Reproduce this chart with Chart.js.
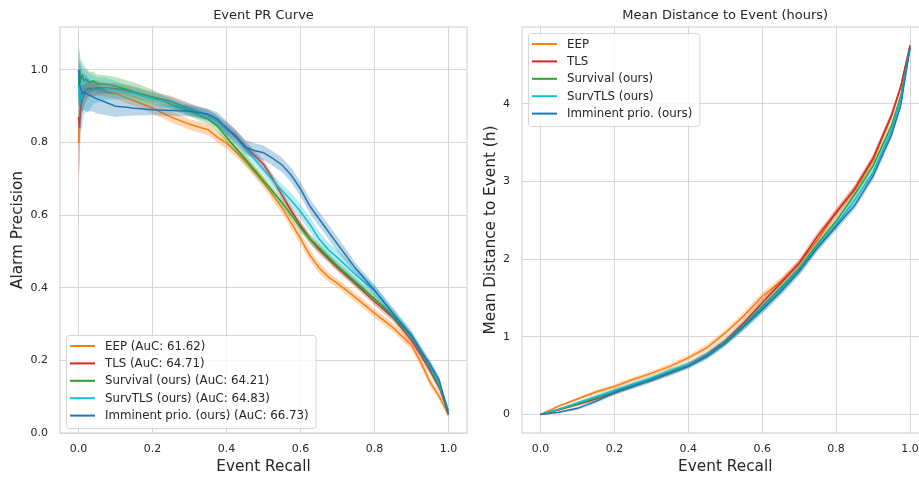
<!DOCTYPE html>
<html>
<head>
<meta charset="utf-8">
<script src="https://cdn.jsdelivr.net/npm/chart.js@4.4.1/dist/chart.umd.min.js"></script>
<style>
  html, body { margin: 0; padding: 0; background: #fff; overflow: hidden; }
  #wrap { position: relative; width: 919px; height: 477px; overflow: hidden; }
  canvas { position: absolute; top: 0; }
  #pr-canvas { left: 0; }
  #dist-canvas { left: 462px; }
</style>
</head>
<body>
<div id="wrap">
  <canvas id="pr-canvas" width="470" height="477"></canvas>
  <canvas id="dist-canvas" width="470" height="477"></canvas>
</div>
<script>
// series
const seriesNames = ['EEP', 'TLS', 'Survival (ours)', 'SurvTLS (ours)', 'Imminent prio. (ours)'];
const aucValues = ['61.62', '64.71', '64.21', '64.83', '66.73'];
const seriesColors = ['#ff7f0e', '#d62728', '#2ca02c', '#17becf', '#1f77b4'];

// left panel: event PR curve
const prRecall = [0, 0.003, 0.006, 0.01, 0.015, 0.02, 0.03, 0.04, 0.05, 0.075, 0.1, 0.125, 0.15, 0.2, 0.25, 0.3,
  0.35, 0.375, 0.4, 0.425, 0.45, 0.475, 0.5, 0.525, 0.55, 0.575, 0.6, 0.625, 0.65, 0.675, 0.7,
  0.75, 0.8, 0.85, 0.9, 0.925, 0.95, 0.975, 1.0];
const prEEP = [0.80, 0.88, 0.90, 0.92, 0.93, 0.935, 0.945, 0.95, 0.95, 0.94, 0.935, 0.925, 0.915, 0.895, 0.87, 0.85,
  0.835, 0.815, 0.798, 0.775, 0.75, 0.72, 0.69, 0.655, 0.62, 0.578, 0.535, 0.49, 0.455, 0.43, 0.412,
  0.372, 0.33, 0.29, 0.242, 0.195, 0.14, 0.10, 0.05];
const prTLS = [0.87, 0.84, 0.90, 0.92, 0.93, 0.945, 0.95, 0.945, 0.95, 0.95, 0.948, 0.945, 0.938, 0.925, 0.913, 0.893,
  0.875, 0.86, 0.84, 0.82, 0.79, 0.765, 0.74, 0.70, 0.655, 0.612, 0.572, 0.535, 0.505, 0.48, 0.455,
  0.41, 0.362, 0.318, 0.255, 0.215, 0.172, 0.125, 0.055];
const prSurvival = [0.95, 1.0, 0.97, 0.985, 0.97, 0.975, 0.965, 0.97, 0.962, 0.96, 0.955, 0.948, 0.94, 0.925, 0.905, 0.887,
  0.865, 0.845, 0.815, 0.785, 0.755, 0.725, 0.695, 0.665, 0.635, 0.60, 0.565, 0.535, 0.51, 0.485, 0.46,
  0.415, 0.37, 0.322, 0.265, 0.225, 0.18, 0.13, 0.06];
const prSurvTLS = [0.96, 0.90, 0.93, 0.92, 0.95, 0.94, 0.94, 0.945, 0.945, 0.948, 0.945, 0.94, 0.935, 0.92, 0.91, 0.89,
  0.875, 0.86, 0.835, 0.815, 0.785, 0.755, 0.725, 0.695, 0.668, 0.64, 0.61, 0.575, 0.535, 0.505, 0.483,
  0.435, 0.392, 0.33, 0.27, 0.23, 0.185, 0.135, 0.06];
const prImminent = [1.0, 0.96, 0.95, 0.935, 0.94, 0.935, 0.93, 0.925, 0.92, 0.91, 0.90, 0.898, 0.894, 0.89, 0.888, 0.887,
  0.878, 0.865, 0.84, 0.815, 0.788, 0.778, 0.772, 0.756, 0.738, 0.71, 0.672, 0.625, 0.59, 0.555, 0.52,
  0.452, 0.393, 0.33, 0.268, 0.225, 0.19, 0.145, 0.05];
// half widths of the shaded bands
const prBandEEP = [0.23, 0.08, 0.05, 0.04, 0.03, 0.025, 0.02, 0.02, 0.02, 0.015, 0.015, 0.015, 0.015, 0.015, 0.015, 0.015,
  0.015, 0.015, 0.015, 0.015, 0.015, 0.015, 0.015, 0.015, 0.015, 0.015, 0.015, 0.015, 0.015, 0.013, 0.012,
  0.012, 0.012, 0.012, 0.012, 0.012, 0.012, 0.01, 0.01];
const prBandTLS = [0.17, 0.1, 0.06, 0.04, 0.03, 0.025, 0.02, 0.02, 0.02, 0.015, 0.015, 0.015, 0.015, 0.015, 0.015, 0.015,
  0.015, 0.015, 0.015, 0.015, 0.015, 0.013, 0.012, 0.012, 0.012, 0.012, 0.012, 0.012, 0.012, 0.01, 0.01,
  0.01, 0.01, 0.01, 0.01, 0.01, 0.01, 0.01, 0.01];
const prBandSurvival = [0.08, 0.06, 0.05, 0.04, 0.03, 0.03, 0.03, 0.025, 0.025, 0.025, 0.025, 0.025, 0.025, 0.02, 0.015, 0.015,
  0.015, 0.015, 0.015, 0.015, 0.015, 0.013, 0.012, 0.012, 0.012, 0.012, 0.012, 0.012, 0.012, 0.012, 0.012,
  0.012, 0.01, 0.01, 0.01, 0.01, 0.01, 0.01, 0.01];
const prBandSurvTLS = [0.14, 0.12, 0.1, 0.08, 0.07, 0.06, 0.05, 0.04, 0.035, 0.03, 0.025, 0.02, 0.02, 0.015, 0.015, 0.015,
  0.015, 0.015, 0.015, 0.015, 0.015, 0.015, 0.015, 0.016, 0.018, 0.02, 0.02, 0.02, 0.02, 0.02, 0.02,
  0.02, 0.015, 0.012, 0.01, 0.01, 0.01, 0.01, 0.01];
const prBandImminent = [0.05, 0.06, 0.06, 0.05, 0.05, 0.05, 0.045, 0.04, 0.04, 0.035, 0.03, 0.025, 0.02, 0.015, 0.015, 0.015,
  0.015, 0.018, 0.02, 0.02, 0.02, 0.02, 0.02, 0.02, 0.02, 0.02, 0.02, 0.02, 0.02, 0.02, 0.02,
  0.015, 0.015, 0.015, 0.012, 0.012, 0.012, 0.01, 0.01];
const prXTicks = [0, 0.2, 0.4, 0.6, 0.8, 1.0];
const prYTicks = [0, 0.2, 0.4, 0.6, 0.8, 1.0];

// right panel: mean distance to event
const distRecall = [0, 0.05, 0.1, 0.15, 0.2, 0.25, 0.3, 0.35, 0.4, 0.45, 0.5, 0.55, 0.6, 0.65, 0.7, 0.75, 0.8, 0.85, 0.9,
  0.95, 0.975, 1.0];
const distEEP = [0, 0.11, 0.2, 0.29, 0.36, 0.45, 0.53, 0.62, 0.73, 0.86, 1.05, 1.27, 1.52, 1.71, 1.94, 2.25, 2.6, 2.9, 3.27,
  3.85, 4.22, 4.75];
const distTLS = [0, 0.06, 0.13, 0.2, 0.28, 0.37, 0.45, 0.54, 0.64, 0.77, 0.95, 1.18, 1.44, 1.69, 1.95, 2.3, 2.6, 2.9, 3.3,
  3.85, 4.22, 4.75];
const distSurvival = [0, 0.07, 0.14, 0.22, 0.3, 0.38, 0.46, 0.55, 0.63, 0.76, 0.93, 1.15, 1.39, 1.63, 1.88, 2.2, 2.49, 2.83,
  3.2, 3.72, 4.1, 4.73];
const distSurvTLS = [0, 0.07, 0.15, 0.23, 0.31, 0.39, 0.47, 0.56, 0.64, 0.76, 0.92, 1.13, 1.36, 1.6, 1.85, 2.16, 2.44, 2.76,
  3.12, 3.66, 4.05, 4.72];
const distImminent = [0, 0.03, 0.08, 0.17, 0.28, 0.36, 0.44, 0.53, 0.62, 0.75, 0.92, 1.13, 1.35, 1.58, 1.84, 2.15, 2.42, 2.69,
  3.07, 3.6, 3.98, 4.72];
const distBandWidth = [0, 0.01, 0.02, 0.025, 0.03, 0.03, 0.03, 0.035, 0.035, 0.04, 0.04, 0.045, 0.05, 0.05, 0.05, 0.05, 0.05,
  0.05, 0.05, 0.05, 0.04, 0.03];
const distXTicks = [0, 0.2, 0.4, 0.6, 0.8, 1.0];
const distYTicks = [0, 1, 2, 3, 4];

const FONT = "'DejaVu Sans', sans-serif";
const TEXT_COLOR = '#262626';
const GRID_COLOR = '#d6d6d6';

function rgba(hex, a) {
  const n = parseInt(hex.slice(1), 16);
  return `rgba(${(n >> 16) & 255}, ${(n >> 8) & 255}, ${n & 255}, ${a})`;
}

function makeDatasets(xs, ysList, bandList) {
  const datasets = [];
  ysList.forEach((ys, i) => {
    const half = bandList[i];
    const base = 100 - i * 10;
    datasets.push({
      data: xs.map((x, k) => ({ x: x, y: ys[k] + half[k] })),
      borderColor: 'transparent',
      borderWidth: 0,
      pointRadius: 0,
      fill: false,
      order: base + 2,
    });
    datasets.push({
      data: xs.map((x, k) => ({ x: x, y: ys[k] - half[k] })),
      borderColor: 'transparent',
      borderWidth: 0,
      pointRadius: 0,
      backgroundColor: rgba(seriesColors[i], 0.3),
      fill: '-1',
      order: base + 1,
    });
    datasets.push({
      data: xs.map((x, k) => ({ x: x, y: ys[k] })),
      borderColor: seriesColors[i],
      borderWidth: 1.5,
      pointRadius: 0,
      fill: false,
      order: base,
    });
  });
  return datasets;
}

function makeScales(cfg) {
  return {
    x: {
      type: 'linear',
      min: cfg.xMin,
      max: cfg.xMax,
      afterBuildTicks: (scale) => { scale.ticks = cfg.xTicks.map((v) => ({ value: v })); },
      afterFit: (scale) => { scale.height = 44; },
      grid: { color: GRID_COLOR, lineWidth: 1, drawTicks: false },
      border: { display: false },
      ticks: {
        color: TEXT_COLOR,
        font: { family: FONT, size: 11 },
        padding: 10,
        callback: (v) => v.toFixed(1),
      },
      title: {
        display: true,
        text: cfg.xTitle,
        color: TEXT_COLOR,
        font: { family: FONT, size: 15.3 },
        padding: { top: 0, bottom: 1 },
      },
    },
    y: {
      type: 'linear',
      min: cfg.yMin,
      max: cfg.yMax,
      afterBuildTicks: (scale) => { scale.ticks = cfg.yTicks.map((v) => ({ value: v })); },
      afterFit: (scale) => { scale.width = 60; },
      grid: { color: GRID_COLOR, lineWidth: 1, drawTicks: false },
      border: { display: false },
      ticks: {
        color: TEXT_COLOR,
        font: { family: FONT, size: 11 },
        padding: cfg.yTickPad,
        callback: cfg.yFormat,
      },
      title: {
        display: true,
        text: cfg.yTitle,
        color: TEXT_COLOR,
        font: { family: FONT, size: 15.3 },
        padding: { top: cfg.yTitlePad, bottom: 0 },
      },
    },
  };
}

// axes frame, panel title and an in-axes legend, matplotlib style
const framePlugin = {
  id: 'frame',
  beforeDatasetsDraw(chart) {
    const { ctx, chartArea: a } = chart;
    ctx.save();
    ctx.strokeStyle = GRID_COLOR;
    ctx.lineWidth = 1.2;
    ctx.strokeRect(a.left, a.top, a.right - a.left, a.bottom - a.top);
    ctx.restore();
  },
  afterDraw(chart, args, opts) {
    const { ctx, chartArea: a } = chart;
    ctx.save();
    ctx.fillStyle = TEXT_COLOR;
    ctx.font = `13px ${FONT}`;
    ctx.textAlign = 'center';
    ctx.textBaseline = 'middle';
    ctx.fillText(opts.title, (a.left + a.right) / 2, 16);

    ctx.font = `11.8px ${FONT}`;
    const rowH = 17.4;
    const textW = Math.max(...opts.labels.map((t) => ctx.measureText(t).width));
    const w = 39 + textW + 7;
    const h = opts.labels.length * rowH + 6;
    const x0 = a.left + 6;
    const y0 = opts.corner === 'top' ? a.top + 6 : a.bottom - 5 - h;
    ctx.beginPath();
    ctx.roundRect(x0 + 0.5, y0 + 0.5, w, h, 3);
    ctx.fillStyle = 'rgba(255,255,255,0.8)';
    ctx.fill();
    ctx.strokeStyle = '#cccccc';
    ctx.lineWidth = 0.8;
    ctx.stroke();
    ctx.textAlign = 'left';
    opts.labels.forEach((t, i) => {
      const y = y0 + 11 + i * rowH;
      ctx.strokeStyle = seriesColors[i];
      ctx.lineWidth = 2;
      ctx.beginPath();
      ctx.moveTo(x0 + 4, y);
      ctx.lineTo(x0 + 29, y);
      ctx.stroke();
      ctx.fillStyle = TEXT_COLOR;
      ctx.fillText(t, x0 + 39, y + 0.5);
    });
    ctx.restore();
  },
};

function baseOptions(scales, frame, padRight) {
  return {
    responsive: false,
    animation: false,
    layout: { padding: { top: 27, right: padRight, left: 0, bottom: 0 } },
    elements: { line: { tension: 0 } },
    plugins: {
      legend: { display: false },
      tooltip: { enabled: false },
      frame: frame,
    },
    scales: scales,
  };
}

new Chart(document.getElementById('pr-canvas'), {
  type: 'line',
  data: {
    datasets: makeDatasets(prRecall, [prEEP, prTLS, prSurvival, prSurvTLS, prImminent],
      [prBandEEP, prBandTLS, prBandSurvival, prBandSurvTLS, prBandImminent]),
  },
  options: baseOptions(makeScales({
    xMin: -0.05, xMax: 1.05, xTicks: prXTicks, xTitle: 'Event Recall',
    yMin: 0, yMax: 1.118, yTicks: prYTicks, yTitle: 'Alarm Precision',
    yTickPad: 12, yTitlePad: 9, yFormat: (v) => v.toFixed(1),
  }), {
    title: 'Event PR Curve',
    corner: 'bottom',
    labels: seriesNames.map((n, i) => `${n} (AuC: ${aucValues[i]})`),
  }, 3),
  plugins: [framePlugin],
});

new Chart(document.getElementById('dist-canvas'), {
  type: 'line',
  data: {
    datasets: makeDatasets(distRecall, [distEEP, distTLS, distSurvival, distSurvTLS, distImminent],
      [distBandWidth, distBandWidth, distBandWidth, distBandWidth, distBandWidth]),
  },
  options: baseOptions(makeScales({
    xMin: -0.05, xMax: 1.05, xTicks: distXTicks, xTitle: 'Event Recall',
    yMin: -0.2375, yMax: 4.9875, yTicks: distYTicks, yTitle: 'Mean Distance to Event (h)',
    yTickPad: 12, yTitlePad: 20, yFormat: (v) => String(v),
  }), {
    title: 'Mean Distance to Event (hours)',
    corner: 'top',
    labels: seriesNames,
  }, 3.5),
  plugins: [framePlugin],
});
</script>
</body>
</html>
